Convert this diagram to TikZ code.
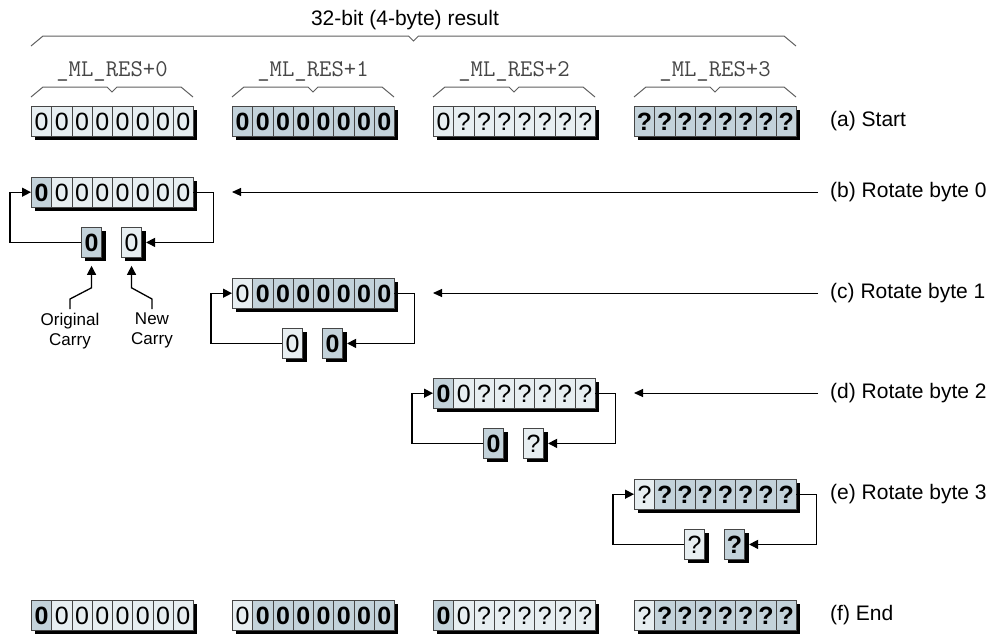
\documentclass[tikz,border=0pt]{standalone}
\usepackage{fontspec}
\setmainfont{Liberation Sans}
\usetikzlibrary{arrows.meta,positioning,shadows}
\definecolor{CellLight}{RGB}{231,238,241}
\definecolor{CellDark}{RGB}{195,210,218}
\definecolor{CellEdge}{RGB}{70,70,70}
\definecolor{BraceGray}{RGB}{95,95,95}
\definecolor{MonoGray}{RGB}{70,70,70}
\tikzset{
  cell/.style={
    draw=CellEdge,
    line width=0.8pt,
    minimum width=20.25pt,
    minimum height=30pt,
    inner sep=0pt,
    anchor=north west,
    font=\fontsize{25}{25}\selectfont
  },
  cellL/.style={cell, fill=CellLight},
  cellD/.style={cell, fill=CellDark, font=\fontsize{25}{25}\selectfont\bfseries},
  shadowed/.style={drop shadow={shadow xshift=4pt, shadow yshift=-4pt, fill=black, opacity=1}},
  bytebox/.style={
    minimum width=162pt,
    minimum height=30pt,
    inner sep=0pt,
    anchor=north west,
    fill=white,
    shadowed
  },
  carryL/.style={cellL, shadowed},
  carryD/.style={cellD, shadowed},
  loopline/.style={-{Triangle[length=9pt,width=9pt]}, line width=1.3pt, draw=black},
  pointer/.style={-{Triangle[length=9pt,width=8pt]}, line width=1pt, draw=black},
  brace/.style={line width=1pt, draw=BraceGray},
  title/.style={font=\fontsize{21}{24}\selectfont},
  rowlabel/.style={font=\fontsize{21}{24}\selectfont, anchor=west, inner sep=0pt},
  monolabel/.style={font=\ttfamily\fontsize{24}{26}\selectfont, text=MonoGray},
  carrylabel/.style={font=\fontsize{17}{20}\selectfont, align=center, anchor=north, inner sep=4pt}
}
% eight cells laid over a byte box
\newcommand\bytecells[2]{%
  \foreach \s/\c [count=\i from 0] in {#2}
    \node[cell\s] (#1-\i) at ([xshift=\i*20.25pt]#1.north west) {\c};}
% flat brace: left, right, top, bottom
\newcommand\flatbrace[4]{%
  \draw[brace] (#1,#4) -- ({#1+12},#3) -- ({(#1+#2)/2-5},#3) -- ({(#1+#2)/2},{#3+5})
    -- ({(#1+#2)/2+5},#3) -- ({#2-12},#3) -- (#2,#4);}

\begin{document}
\begin{tikzpicture}[x=1pt,y=-1pt]
  \useasboundingbox (0,0) rectangle (995,638);

  % header
  \node[title] (ttl) at (405,20) {32-bit (4-byte) result};
  \flatbrace{31}{796}{36}{46}
  \node[monolabel] (m0) at (112,71) {\_ML\_RES+0};
  \node[monolabel] (m1) at (313,71) {\_ML\_RES+1};
  \node[monolabel] (m2) at (514,71) {\_ML\_RES+2};
  \node[monolabel] (m3) at (715,71) {\_ML\_RES+3};
  \flatbrace{31}{193}{87}{97}
  \flatbrace{232}{394}{87}{97}
  \flatbrace{433}{595}{87}{97}
  \flatbrace{634}{796}{87}{97}

  % (a) start
  \node[bytebox] (aB0) at (31,106) {};
  \bytecells{aB0}{L/0,L/0,L/0,L/0,L/0,L/0,L/0,L/0}
  \node[bytebox] (aB1) at (232,106) {};
  \bytecells{aB1}{D/0,D/0,D/0,D/0,D/0,D/0,D/0,D/0}
  \node[bytebox] (aB2) at (433,106) {};
  \bytecells{aB2}{L/0,L/?,L/?,L/?,L/?,L/?,L/?,L/?}
  \node[bytebox] (aB3) at (634,106) {};
  \bytecells{aB3}{D/?,D/?,D/?,D/?,D/?,D/?,D/?,D/?}
  \node[rowlabel] (aLbl) at (830,121) {(a) Start};

  % (b) rotate byte 0
  \node[bytebox] (bB) at (31,177) {};
  \bytecells{bB}{D/0,L/0,L/0,L/0,L/0,L/0,L/0,L/0}
  \node[carryD] (bcO) at (81,227) {0};
  \node[carryL] (bcN) at (121,227) {0};
  \node[rowlabel] (bLbl) at (830,192) {(b) Rotate byte 0};
  \draw[loopline] (bcO.west) -| ([xshift=-21pt]bB.west) -- (bB.west);
  \draw[loopline, shorten >=4pt] (bB.east) -- ++(20,0) |- (bcN.east);
  \node[carrylabel] (lblO) at (70,309) {Original\\Carry};
  \node[carrylabel] (lblN) at (152,309) {New\\Carry};
  \draw[loopline, shorten >=8pt] (lblO.north) -- ++(0,-10) -- ([yshift=-30pt]bcO.south) -- (bcO.south);
  \draw[loopline, shorten >=8pt] (lblN.north) -- ++(0,-10) -- ([yshift=-30pt]bcN.south) -- (bcN.south);

  % (c) rotate byte 1
  \node[bytebox] (cB) at (232,278) {};
  \bytecells{cB}{L/0,D/0,D/0,D/0,D/0,D/0,D/0,D/0}
  \node[carryL] (ccO) at (282,328) {0};
  \node[carryD] (ccN) at (322,328) {0};
  \node[rowlabel] (cLbl) at (830,293) {(c) Rotate byte 1};
  \draw[loopline] (ccO.west) -| ([xshift=-21pt]cB.west) -- (cB.west);
  \draw[loopline, shorten >=4pt] (cB.east) -- ++(20,0) |- (ccN.east);

  % (d) rotate byte 2
  \node[bytebox] (dB) at (433,378) {};
  \bytecells{dB}{D/0,L/0,L/?,L/?,L/?,L/?,L/?,L/?}
  \node[carryD] (dcO) at (483,428) {0};
  \node[carryL] (dcN) at (523,428) {?};
  \node[rowlabel] (dLbl) at (830,393) {(d) Rotate byte 2};
  \draw[loopline] (dcO.west) -| ([xshift=-21pt]dB.west) -- (dB.west);
  \draw[loopline, shorten >=4pt] (dB.east) -- ++(20,0) |- (dcN.east);

  % (e) rotate byte 3
  \node[bytebox] (eB) at (634,479) {};
  \bytecells{eB}{L/?,D/?,D/?,D/?,D/?,D/?,D/?,D/?}
  \node[carryL] (ecO) at (684,529) {?};
  \node[carryD] (ecN) at (724,529) {?};
  \node[rowlabel] (eLbl) at (830,494) {(e) Rotate byte 3};
  \draw[loopline] (ecO.west) -| ([xshift=-21pt]eB.west) -- (eB.west);
  \draw[loopline, shorten >=4pt] (eB.east) -- ++(20,0) |- (ecN.east);

  % pointers from the row labels
  \draw[pointer] ([xshift=-12pt]bLbl.west) -- (bLbl.west -| cB.west);
  \draw[pointer] ([xshift=-12pt]cLbl.west) -- (cLbl.west -| dB.west);
  \draw[pointer] ([xshift=-12pt]dLbl.west) -- (dLbl.west -| eB.west);

  % (f) end
  \node[bytebox] (fB0) at (31,600) {};
  \bytecells{fB0}{D/0,L/0,L/0,L/0,L/0,L/0,L/0,L/0}
  \node[bytebox] (fB1) at (232,600) {};
  \bytecells{fB1}{L/0,D/0,D/0,D/0,D/0,D/0,D/0,D/0}
  \node[bytebox] (fB2) at (433,600) {};
  \bytecells{fB2}{D/0,L/0,L/?,L/?,L/?,L/?,L/?,L/?}
  \node[bytebox] (fB3) at (634,600) {};
  \bytecells{fB3}{L/?,D/?,D/?,D/?,D/?,D/?,D/?,D/?}
  \node[rowlabel] (fLbl) at (830,615) {(f) End};
\end{tikzpicture}
\end{document}
